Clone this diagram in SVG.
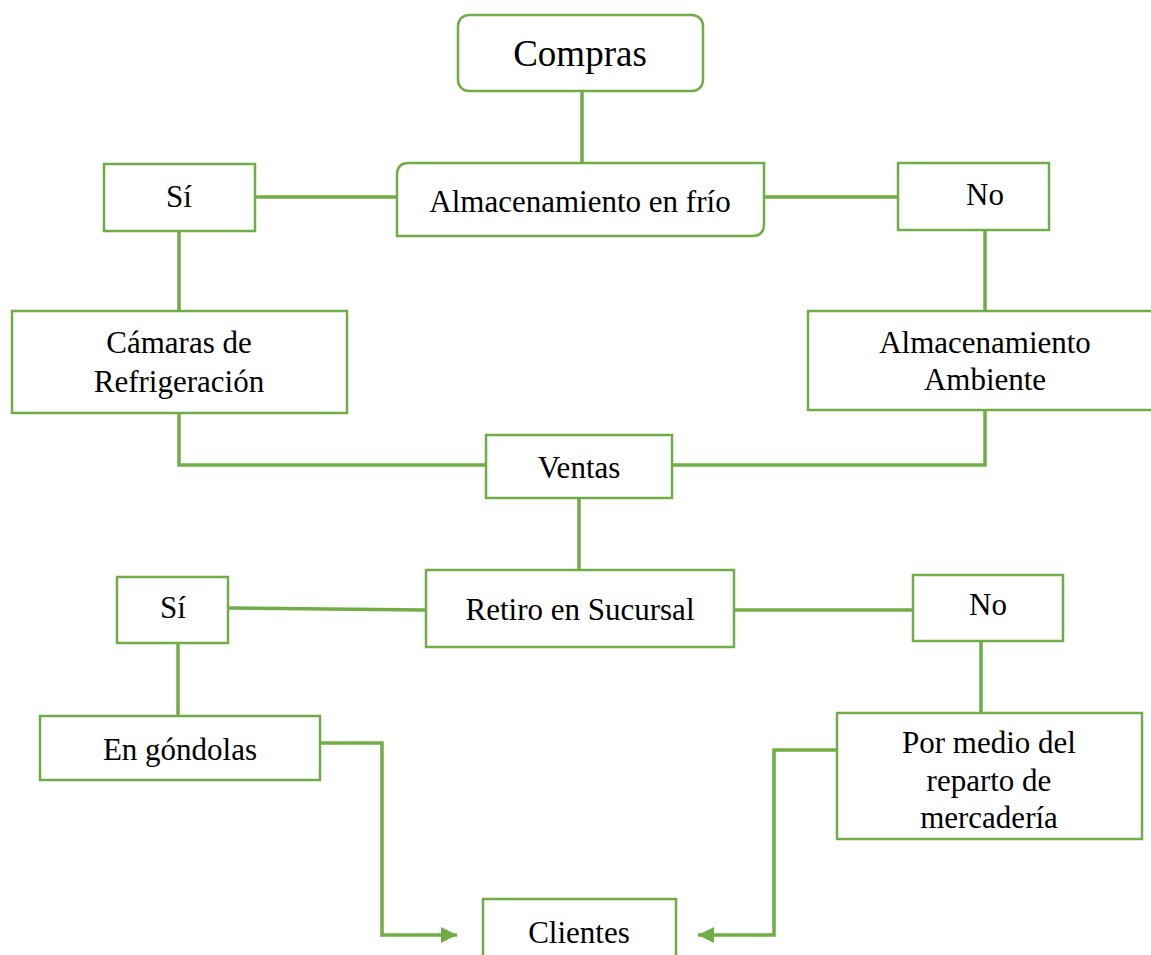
<svg xmlns="http://www.w3.org/2000/svg" width="1151" height="955" viewBox="0 0 1151 955">
<style>
.box{fill:#fff;stroke:#70AD47;stroke-width:2.5}
.ln{fill:none;stroke:#70AD47;stroke-width:3.5}
text{font-family:"Liberation Serif","Times New Roman",serif;font-size:31px;fill:#000;text-anchor:middle}
</style>
<defs>
<marker id="ah" markerUnits="userSpaceOnUse" markerWidth="18" markerHeight="16" refX="16" refY="8" orient="auto">
<path d="M0,0 L16,8 L0,16 Z" fill="#70AD47"/>
</marker>
</defs>
<g id="connectors">
<path class="ln" d="M582,91 V163"/>
<path class="ln" d="M255,197 H397"/>
<path class="ln" d="M764,197 H898"/>
<path class="ln" d="M179,231 V311"/>
<path class="ln" d="M985,230 V311"/>
<path class="ln" d="M179,413 V465 H486"/>
<path class="ln" d="M985,410 V465 H672"/>
<path class="ln" d="M579,498 V570"/>
<path class="ln" d="M228,608 L426,610"/>
<path class="ln" d="M734,610 H913"/>
<path class="ln" d="M178,643 V716"/>
<path class="ln" d="M981,641 V713"/>
<path class="ln" d="M320,743 H382 V935 H457" marker-end="url(#ah)"/>
<path class="ln" d="M837,750 H774 V935 H698" marker-end="url(#ah)"/>
</g>
<g id="compras">
<rect class="box" x="458" y="15" width="245" height="76" rx="11"/>
<text x="580" y="66" style="font-size:37px">Compras</text>
</g>
<g id="almacenamiento-frio">
<path class="box" d="M409,163 H764 V224 Q764,236 752,236 H397 V175 Q397,163 409,163 Z"/>
<text x="580" y="212">Almacenamiento en frío</text>
</g>
<g id="si-1">
<rect class="box" x="104" y="164" width="151" height="67"/>
<text x="179" y="207">Sí</text>
</g>
<g id="no-1">
<rect class="box" x="898" y="163" width="151" height="67"/>
<text x="985" y="205">No</text>
</g>
<g id="camaras">
<rect class="box" x="12" y="311" width="335" height="102"/>
<text x="179" y="353">Cámaras de</text>
<text x="179" y="392">Refrigeración</text>
</g>
<g id="ambiente">
<rect class="box" x="808" y="311" width="350" height="99"/>
<text x="985" y="353">Almacenamiento</text>
<text x="985" y="390">Ambiente</text>
</g>
<g id="ventas">
<rect class="box" x="486" y="435" width="186" height="63"/>
<text x="579" y="478">Ventas</text>
</g>
<g id="retiro">
<rect class="box" x="426" y="570" width="308" height="77"/>
<text x="580" y="620">Retiro en Sucursal</text>
</g>
<g id="si-2">
<rect class="box" x="117" y="577" width="111" height="66"/>
<text x="173" y="618">Sí</text>
</g>
<g id="no-2">
<rect class="box" x="913" y="575" width="150" height="66"/>
<text x="988" y="615">No</text>
</g>
<g id="gondolas">
<rect class="box" x="40" y="716" width="280" height="64"/>
<text x="180" y="760">En góndolas</text>
</g>
<g id="reparto">
<rect class="box" x="837" y="713" width="305" height="126"/>
<text x="989" y="753">Por medio del</text>
<text x="989" y="791">reparto de</text>
<text x="989" y="828">mercadería</text>
</g>
<g id="clientes">
<rect class="box" x="483" y="899" width="193" height="70"/>
<text x="579" y="943">Clientes</text>
</g>
</svg>
